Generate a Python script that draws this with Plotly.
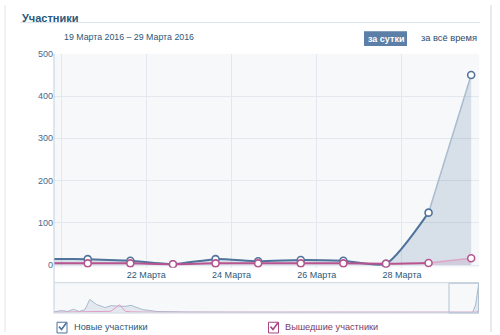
import plotly.graph_objects as go
import pandas as pd

# ---------------- data ----------------
days = ['2016-03-19', '2016-03-20', '2016-03-21', '2016-03-22', '2016-03-23', '2016-03-24',
        '2016-03-25', '2016-03-26', '2016-03-27', '2016-03-28', '2016-03-29']
new_members = [14, 14, 10, 2, 14, 9, 12, 10, 3, 124, 450]
left_members = [4, 4, 4, 2, 4, 4, 4, 4, 3, 5, 16]

tick_days = ['2016-03-20', '2016-03-22', '2016-03-24', '2016-03-26', '2016-03-28']
tick_text = ['', '22 Марта', '24 Марта', '26 Марта', '28 Марта']
y_ticks = [0, 100, 200, 300, 400, 500]

nav_dates = ['2015-11-03', '2015-11-06', '2015-11-08', '2015-11-10', '2015-11-12', '2015-11-14',
             '2015-11-15 16:00', '2015-11-18', '2015-11-21', '2015-11-23', '2015-11-26',
             '2015-11-28', '2015-11-30', '2015-12-02', '2015-12-04', '2015-12-09', '2015-12-20',
             '2016-01-10', '2016-02-05', '2016-03-01', '2016-03-19 15:00', '2016-03-27 15:00',
             '2016-03-28 15:00', '2016-03-29 15:00']
nav_new = [8, 32, 16, 53, 16, 48, 214, 133, 80, 112, 104, 101, 117, 80, 48, 16, 8,
           5, 6, 5, 14, 3, 124, 450]
nav_left = [3, 5, 4, 6, 4, 8, 10, 12, 10, 20, 128, 20, 10, 8, 5, 4, 3,
            3, 3, 3, 4, 3, 5, 16]

title_text = 'Участники'
period_text = '19 Марта 2016 – 29 Марта 2016'
btn_day = 'за сутки'
btn_all = 'за всё время'
legend_new = 'Новые участники'
legend_left = 'Вышедшие участники'

# ---------------- styling ----------------
W, H = 500, 335
BLUE = '#4f739a'
BLUE_LIGHT = '#a9bcd0'
PINK = '#b8548f'
PINK_LIGHT = '#dba6c6'
FILL = 'rgba(89,125,163,0.20)'
FILL_PINK = 'rgba(184,84,143,0.12)'
TXT = '#2b587a'
FONT = 'Liberation Sans, Arial, sans-serif'


def px(x):
    return x / W


def py(y):
    return 1 - y / H


x = pd.to_datetime(days) + pd.Timedelta(hours=15)
xs = [t.strftime('%Y-%m-%d %H:%M') for t in x]
n = len(xs)

fig = go.Figure()

# blue main line with fill
fig.add_trace(go.Scatter(x=xs[:n - 1], y=new_members[:n - 1], mode='lines',
                         line=dict(color=BLUE, width=2, shape='spline', smoothing=0.6),
                         fill='tozeroy', fillcolor=FILL, hoverinfo='skip'))
fig.add_trace(go.Scatter(x=xs[n - 2:], y=new_members[n - 2:], mode='lines',
                         line=dict(color=BLUE_LIGHT, width=1.5),
                         fill='tozeroy', fillcolor=FILL, hoverinfo='skip'))
# pink
fig.add_trace(go.Scatter(x=xs[:n - 1], y=left_members[:n - 1], mode='lines',
                         line=dict(color=PINK, width=2, shape='spline', smoothing=0.6),
                         hoverinfo='skip'))
fig.add_trace(go.Scatter(x=xs[n - 2:], y=left_members[n - 2:], mode='lines',
                         line=dict(color=PINK_LIGHT, width=1.5),
                         fill='tozeroy', fillcolor=FILL_PINK, hoverinfo='skip'))
# markers
fig.add_trace(go.Scatter(x=xs, y=new_members, mode='markers',
                         marker=dict(size=7, color='white', line=dict(color=BLUE, width=1.6)),
                         cliponaxis=True, hoverinfo='skip'))
fig.add_trace(go.Scatter(x=xs, y=left_members, mode='markers',
                         marker=dict(size=7, color='white', line=dict(color=PINK, width=1.6)),
                         cliponaxis=True, hoverinfo='skip'))

# navigator
fig.add_trace(go.Scatter(x=nav_dates, y=nav_new, mode='lines', xaxis='x2', yaxis='y2',
                         line=dict(color='#a8b9cc', width=1), fill='tozeroy',
                         fillcolor='rgba(168,185,204,0.25)', hoverinfo='skip'))
fig.add_trace(go.Scatter(x=nav_dates, y=nav_left, mode='lines', xaxis='x2', yaxis='y2',
                         line=dict(color='#e39ac4', width=1), hoverinfo='skip'))

shapes = []
# block borders
shapes.append(dict(type='line', xref='paper', yref='paper', x0=px(5), x1=px(5), y0=0, y1=1,
                   line=dict(color='#dfe5eb', width=1)))
shapes.append(dict(type='line', xref='paper', yref='paper', x0=px(491), x1=px(491), y0=0, y1=1,
                   line=dict(color='#dfe5eb', width=1.5)))
# title underline
shapes.append(dict(type='line', xref='paper', yref='paper', x0=px(20), x1=px(480), y0=py(18), y1=py(18),
                   line=dict(color='#dae2e8', width=1)))
# y axis line (runs through navigator)
shapes.append(dict(type='line', xref='paper', yref='paper', x0=px(54), x1=px(54), y0=py(50), y1=py(316),
                   line=dict(color='#c3cfdb', width=1)))
# navigator frame lines
shapes.append(dict(type='line', xref='paper', yref='paper', x0=px(54), x1=px(479), y0=py(284.5), y1=py(284.5),
                   line=dict(color='#c9d4de', width=1)))
shapes.append(dict(type='line', xref='paper', yref='paper', x0=px(54), x1=px(479), y0=py(315.5), y1=py(315.5),
                   line=dict(color='#c9d4de', width=1)))
# navigator selection window
shapes.append(dict(type='rect', xref='paper', yref='paper', x0=px(449), x1=px(478.5), y0=py(315.5), y1=py(285),
                   line=dict(color='#b3c2d1', width=1), fillcolor='rgba(255,255,255,0)'))
# button
shapes.append(dict(type='rect', xref='paper', yref='paper', x0=px(364), x1=px(407), y0=py(42), y1=py(27),
                   line=dict(color='#5b7fa6', width=0), fillcolor='#5b7fa6'))
# checkboxes
for (cx, col) in [(57, '#4f739a'), (268.5, '#a8457f')]:
    shapes.append(dict(type='rect', xref='paper', yref='paper', x0=px(cx), x1=px(cx + 10),
                       y0=py(336), y1=py(325), line=dict(color=col, width=1), fillcolor='white'))
    path = 'M {:.5f},{:.5f} L {:.5f},{:.5f} L {:.5f},{:.5f}'.format(
        px(cx + 2), py(329.5), px(cx + 4.5), py(332.5), px(cx + 9.5), py(325.5))
    shapes.append(dict(type='path', xref='paper', yref='paper', path=path,
                       line=dict(color=col, width=1.6)))

annotations = [
    dict(text=title_text, x=px(20), y=py(13), xref='paper', yref='paper', xanchor='left', yanchor='middle',
         showarrow=False, font=dict(family=FONT, size=11, color=TXT, weight='bold')),
    dict(text=period_text, x=px(62), y=py(33), xref='paper', yref='paper', xanchor='left', yanchor='middle',
         showarrow=False, font=dict(family=FONT, size=8.8, color=TXT)),
    dict(text='<b>' + btn_day + '</b>', x=px(385.5), y=py(34.5), xref='paper', yref='paper', xanchor='center',
         yanchor='middle', showarrow=False, font=dict(family=FONT, size=9, color='white')),
    dict(text=btn_all, x=px(419), y=py(34), xref='paper', yref='paper', xanchor='left', yanchor='middle',
         showarrow=False, font=dict(family=FONT, size=9.3, color='#2b4a6a')),
    dict(text=legend_new, x=px(72), y=py(330), xref='paper', yref='paper', xanchor='left', yanchor='middle',
         showarrow=False, font=dict(family=FONT, size=9.2, color=TXT)),
    dict(text=legend_left, x=px(283), y=py(330), xref='paper', yref='paper', xanchor='left', yanchor='middle',
         showarrow=False, font=dict(family=FONT, size=9.2, color='#7a3a66')),
]

fig.update_layout(
    width=W, height=H,
    margin=dict(l=0, r=0, t=0, b=0),
    paper_bgcolor='white',
    plot_bgcolor='#f7f8fa',
    showlegend=False,
    shapes=shapes,
    annotations=annotations,
    xaxis=dict(type='date', domain=[px(54), px(479)],
               range=['2016-03-19 20:00', '2016-03-29 19:25'],
               tickmode='array', tickvals=tick_days, ticktext=tick_text,
               showgrid=True, gridcolor='#e3e8ee', gridwidth=1, zeroline=False, showline=False,
               ticks='', tickfont=dict(family=FONT, size=9, color=TXT), fixedrange=True),
    yaxis=dict(domain=[py(269), py(50)], range=[-6, 500], tickmode='array', tickvals=y_ticks,
               showgrid=True, gridcolor='#e3e8ee', gridwidth=1, zeroline=False, showline=False,
               ticks='', tickfont=dict(family=FONT, size=9, color='#45688e'), fixedrange=True),
    xaxis2=dict(type='date', domain=[px(54), px(479)], anchor='y2',
                range=['2015-11-03 06:00', '2016-03-29 19:25'],
                showgrid=False, zeroline=False, showline=False, showticklabels=False, ticks=''),
    yaxis2=dict(domain=[py(315), py(285)], anchor='x2', range=[0, 482],
                showgrid=False, zeroline=False, showline=False, showticklabels=False, ticks=''),
)

fig.write_html('out.html')
